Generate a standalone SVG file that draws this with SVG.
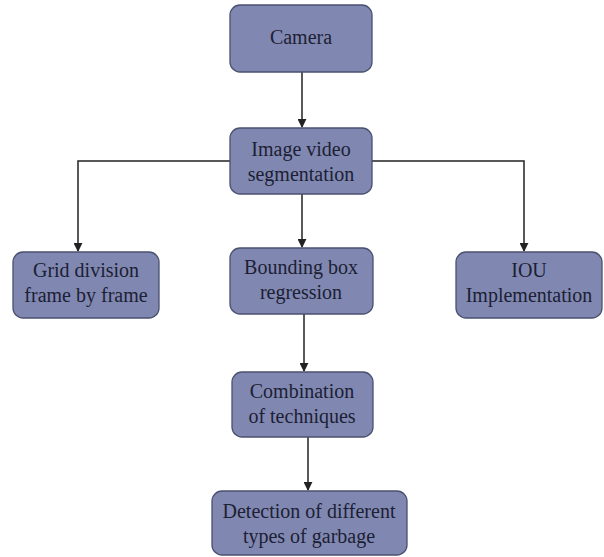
<svg xmlns="http://www.w3.org/2000/svg" width="604" height="557" viewBox="0 0 604 557">
<defs>
<style>
.box{fill:#8088B2;stroke:#4A5070;stroke-width:1.3}
.t{font-family:"Liberation Serif","DejaVu Serif","Times New Roman",serif;font-size:20px;fill:#1C2033;text-anchor:middle}
.c{fill:none;stroke:#222;stroke-width:1.5}
</style>
<marker id="ah" viewBox="0 0 10 10" refX="9" refY="5" markerWidth="9" markerHeight="9" markerUnits="userSpaceOnUse" orient="auto">
<path d="M0,0 L10,5 L0,10 z" fill="#222"/>
</marker>
</defs>
<rect width="604" height="557" fill="#fff"/>
<g id="connectors">
<path class="c" d="M302,72 V127" marker-end="url(#ah)"/>
<path class="c" d="M230,161 H78 V251" marker-end="url(#ah)"/>
<path class="c" d="M372,161 H524 V251" marker-end="url(#ah)"/>
<path class="c" d="M302,194 V247" marker-end="url(#ah)"/>
<path class="c" d="M304,314 V371" marker-end="url(#ah)"/>
<path class="c" d="M308,437 V490" marker-end="url(#ah)"/>
</g>
<g id="camera">
<rect class="box" x="230" y="5" width="142" height="67" rx="10"/>
<text class="t" x="301" y="44">Camera</text>
</g>
<g id="segmentation">
<rect class="box" x="230" y="128" width="142" height="66" rx="10"/>
<text class="t" x="301" y="156">Image video</text>
<text class="t" x="301" y="181">segmentation</text>
</g>
<g id="grid">
<rect class="box" x="13" y="252" width="146" height="66" rx="10"/>
<text class="t" x="86" y="277">Grid division</text>
<text class="t" x="86" y="302">frame by frame</text>
</g>
<g id="bbox">
<rect class="box" x="230" y="248" width="143" height="66" rx="10"/>
<text class="t" x="301" y="274">Bounding box</text>
<text class="t" x="301" y="299">regression</text>
</g>
<g id="iou">
<rect class="box" x="456" y="252" width="146" height="66" rx="10"/>
<text class="t" x="529" y="277">IOU</text>
<text class="t" x="529" y="302">Implementation</text>
</g>
<g id="combination">
<rect class="box" x="232" y="372" width="141" height="65" rx="10"/>
<text class="t" x="302" y="398">Combination</text>
<text class="t" x="302" y="423">of techniques</text>
</g>
<g id="detection">
<rect class="box" x="212" y="491" width="195" height="64" rx="10"/>
<text class="t" x="309" y="518">Detection of different</text>
<text class="t" x="309" y="543">types of garbage</text>
</g>
</svg>
